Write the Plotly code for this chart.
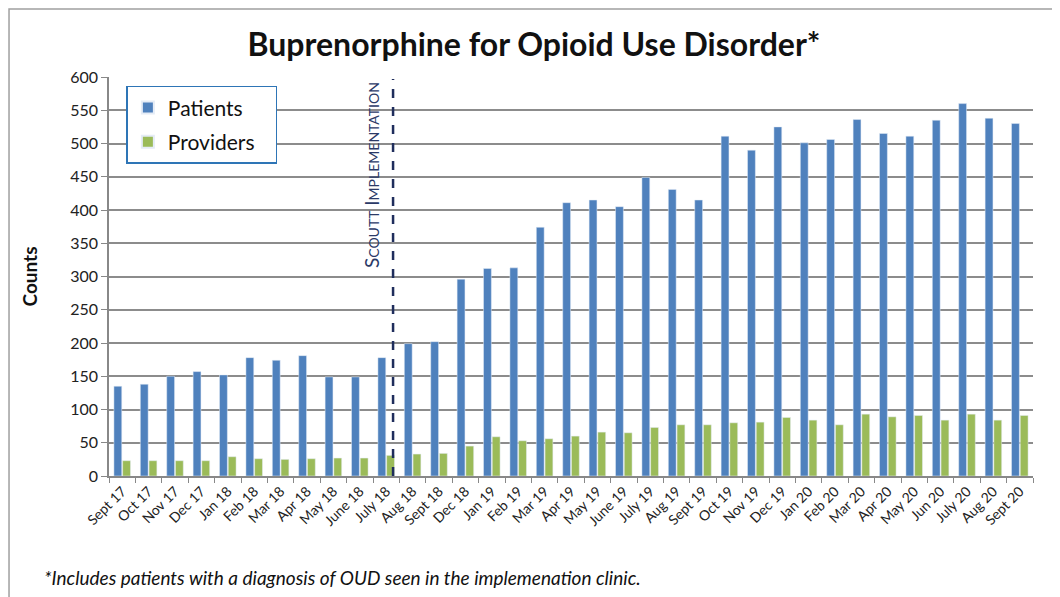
import plotly.graph_objects as go

months = ["Sept 17", "Oct 17", "Nov 17", "Dec 17", "Jan 18", "Feb 18", "Mar 18", "Apr 18",
          "May 18", "June 18", "July 18", "Aug 18", "Sept 18", "Dec 18", "Jan 19", "Feb 19",
          "Mar 19", "Apr 19", "May 19", "June 19", "July 19", "Aug 19", "Sept 19", "Oct 19",
          "Nov 19", "Dec 19", "Jan 20", "Feb 20", "Mar 20", "Apr 20", "May 20", "Jun 20",
          "July 20", "Aug 20", "Sept 20"]
patients = [135, 138, 150, 157, 152, 178, 174, 181, 149, 149, 178, 199, 202, 296, 312, 313,
            374, 411, 415, 405, 449, 431, 415, 511, 490, 525, 501, 506, 536, 515, 511, 535,
            560, 538, 530]
providers = [23, 23, 23, 23, 29, 26, 25, 26, 27, 27, 31, 33, 34, 45, 59, 53,
             56, 60, 66, 65, 73, 77, 77, 80, 81, 88, 84, 77, 93, 89, 91, 84,
             93, 84, 91]
y_ticks = [0, 50, 100, 150, 200, 250, 300, 350, 400, 450, 500, 550, 600]
implementation_pos = 10.26

FONT = "Lato"

fig = go.Figure()
fig.add_trace(go.Bar(name="Patients", x=months, y=patients, marker_color="#4F81BD",
                     legendgroup="a"))
fig.add_trace(go.Bar(name="Providers", x=months, y=providers, marker_color="#9BBB59",
                     legendgroup="b"))
fig.data[0].name = "Patients&nbsp;&nbsp;&nbsp;&nbsp;"
fig.data[1].name = "Providers&nbsp;&nbsp;&nbsp;"

fig.update_layout(
    width=1052, height=589,
    margin=dict(l=101, r=27, t=69, b=121),
    paper_bgcolor="white", plot_bgcolor="white",
    barmode="group", bargap=0.34, bargroupgap=0.1,
    font=dict(family=FONT, color="#222222"),
    title=dict(text="<b>Buprenorphine for Opioid Use Disorder*</b>",
               x=0.5, xanchor="center", y=0.937, yanchor="middle",
               font=dict(size=32, family=FONT, color="#111111")),
    showlegend=True,
    legend=dict(x=0.0188, y=0.978, xanchor="left", yanchor="top",
                bgcolor="white", bordercolor="#2E75B6", borderwidth=1.5,
                font=dict(size=21, family=FONT, color="#111111"),
                itemsizing="constant", tracegroupgap=4),
    xaxis=dict(type="category", tickangle=-45, tickson="boundaries",
               ticks="outside", ticklen=5, tickcolor="#888888",
               showline=True, linecolor="#888888", linewidth=1.5,
               showgrid=False, tickfont=dict(size=14, family=FONT, color="#222222")),
    yaxis=dict(range=[0, 600], tickvals=y_ticks, showgrid=True, gridcolor="#8C8C8C",
               gridwidth=1.5, ticks="outside", ticklen=6, tickcolor="#888888",
               showline=True, linecolor="#888888", linewidth=1.5, zeroline=False,
               tickfont=dict(size=16, family=FONT, color="#222222"),
               title=dict(text="<b>Counts</b>", font=dict(size=19, family=FONT, color="#111111"),
                          standoff=28)),
)

fig.add_shape(type="line", xref="x", yref="y", x0=implementation_pos, x1=implementation_pos,
              y0=0, y1=597, line=dict(color="#1F2D5C", width=2.5, dash="dash"))

fig.add_annotation(xref="x", yref="y", x=implementation_pos - 0.82, y=596, xanchor="center",
                   yanchor="top", textangle=-90, showarrow=False,
                   text="S<span style='font-size:14px'>COUTT</span> I<span style='font-size:14px'>MPLEMENTATION</span>",
                   font=dict(size=19, family=FONT, color="#2B3A67"))

fig.add_annotation(xref="paper", yref="paper", x=-0.0725, y=-0.2556, xanchor="left", yanchor="middle",
                   showarrow=False,
                   text="<i>*Includes patients with a diagnosis of OUD seen in the implemenation clinic.</i>",
                   font=dict(size=19, family=FONT, color="#111111"))

# outer chart frame
fig.add_shape(type="rect", xref="paper", yref="paper", x0=-0.1082, x1=1.0238, y0=-0.35, y1=1.1704,
              line=dict(color="#A0A0A0", width=1.5), fillcolor="rgba(0,0,0,0)")

fig.write_html("out.html")
